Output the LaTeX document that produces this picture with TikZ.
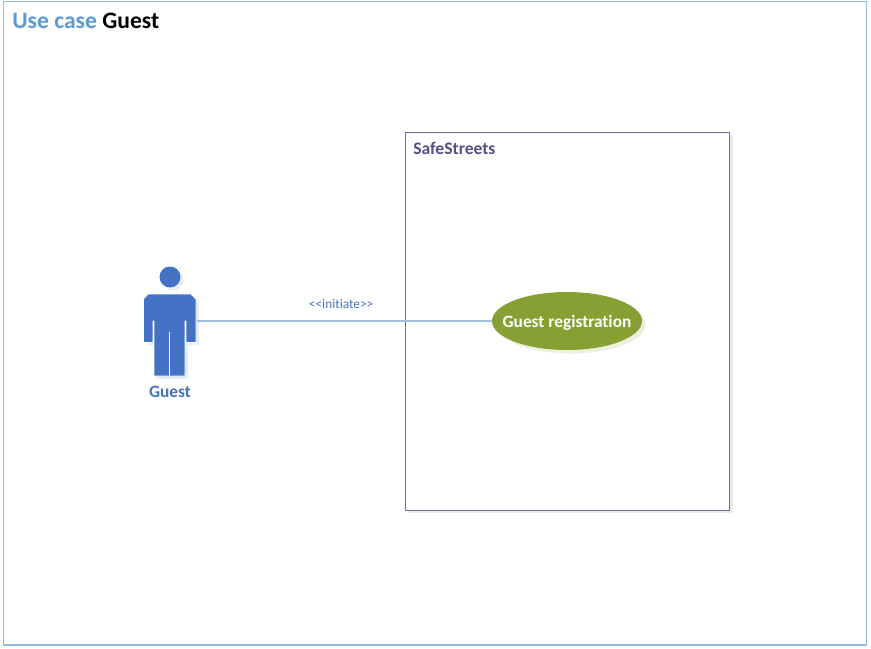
\documentclass[tikz,border=0pt]{standalone}
\usepackage{fontspec}
\setmainfont[RawFeature={-liga;-clig;-dlig}]{Carlito}
\usetikzlibrary{shapes.geometric}
\definecolor{framecol}{HTML}{8DBBE4}
\definecolor{titlecol}{HTML}{5B9BD5}
\definecolor{boxcol}{HTML}{5A4D84}
\definecolor{actorcol}{HTML}{4472C4}
\definecolor{actorshade}{HTML}{E6ECF8}
\definecolor{linecol}{HTML}{9DC3E0}
\definecolor{casecol}{HTML}{87A033}
\definecolor{caseshade}{HTML}{EDF0E0}
\tikzset{
  actorpart/.style={fill=actorcol,draw=white,line width=0.6pt},
  shadepart/.style={fill=actorshade,draw=none},
  usecase/.style={ellipse,fill=casecol,minimum width=112.5pt,minimum height=43.5pt,inner sep=0pt,
    text=white,font=\fontsize{13}{15}\selectfont\bfseries},
  caseshadow/.style={ellipse,fill=caseshade,minimum width=112.5pt,minimum height=43.5pt,inner sep=0pt},
}
\begin{document}
\begin{tikzpicture}[x=0.75pt,y=-0.75pt]
      \useasboundingbox (0, 0) rectangle (871, 649);
      \fill[white] (0, 0) rectangle (871, 649);
      \draw[framecol, line width=0.8pt] (3.5, 1.5) rectangle (866.5, 645);
      \node[anchor=base west, inner sep=0pt, text=titlecol, font=\fontsize{17.7}{20}\selectfont\bfseries]
        (title) at (12, 28.5) {Use case \textcolor{black}{Guest}};

      % system box
      \fill[black!8] (408, 135) rectangle (732.5, 513);
      \draw[boxcol!85, fill=white, line width=0.7pt] (405, 132) rectangle (729.5, 510);
      \node[anchor=base west, inner sep=0pt, text=boxcol, font=\fontsize{13.2}{15}\selectfont\bfseries]
        (system) at (413, 154.5) {SafeStreets};

      % actor
      \begin{scope}[shift={(3, 3)}]
        \fill[actorshade] (170, 277) circle (10.5);
        \path[shadepart] (148, 294) -- (191, 294) -- (196, 299) -- (196, 342) -- (185, 342)
          -- (185, 376) -- (154, 376) -- (154, 342) -- (143.5, 342) -- (143.5, 299) -- cycle;
      \end{scope}
      \fill[actorcol] (170, 277) circle (10.5);
      \path[actorpart] (148, 294) -- (191, 294) -- (196, 299) -- (196, 342.5) -- (186, 342.5)
        -- (186, 321) -- (185, 321) -- (185, 376) -- (154, 376) -- (154, 321) -- (153, 321)
        -- (153, 342.5) -- (143.5, 342.5) -- (143.5, 299) -- cycle;
      \draw[white, line width=0.6pt] (169.5, 332) -- (169.5, 376);
      \node[inner sep=0pt, text=actorcol, font=\fontsize{13}{15}\selectfont\bfseries]
        (guest) at (170, 391.5) {Guest};
      \coordinate (guestport) at (196.5, 321);

      % use case
      \node[caseshadow] at (570.5, 324.5) {};
      \node[usecase] (registration) at (567, 321) {\smash{\raisebox{-4.5pt}{\makebox[0pt]{Guest registration}}}};

      \draw[linecol, line width=0.9pt] (guestport) -- (registration.west)
        node[pos=0.49, above=8.5pt, inner sep=0pt, text=actorcol, font=\fontsize{10}{12}\selectfont] (initiate)
        {<{}<initiate>{}>};
    \end{tikzpicture}
\end{document}
